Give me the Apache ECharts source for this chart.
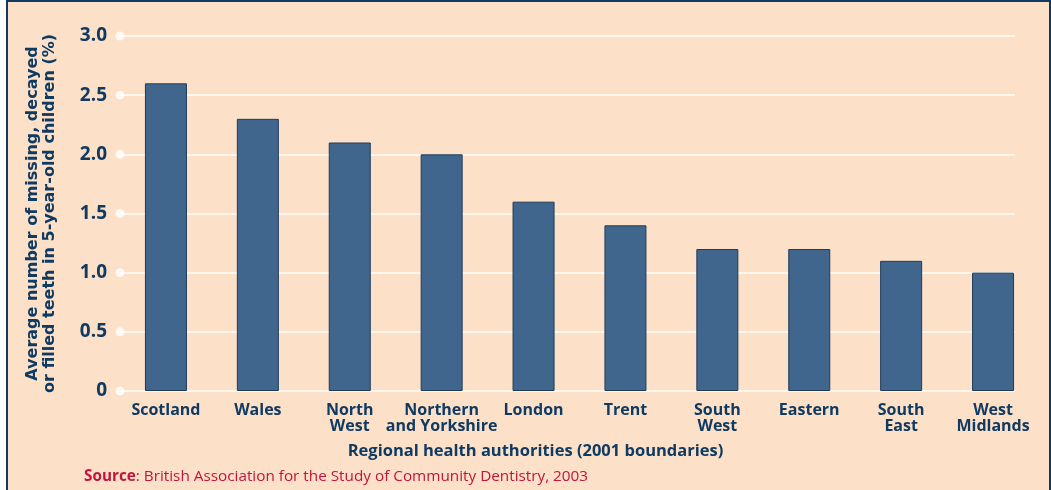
<!DOCTYPE html>
<html>
<head>
<meta charset="utf-8">
<script src="https://cdn.jsdelivr.net/npm/echarts@6/dist/echarts.min.js"></script>
<style>
  html, body { margin: 0; padding: 0; background: #fff; }
  #frame { position: absolute; left: 6px; top: 0; width: 1041px; height: 500px;
           background: #fde0c8; border: 2px solid #0f3a62; border-bottom: none; }
  #main { position: absolute; left: 0; top: 0; width: 1051px; height: 490px; }
</style>
</head>
<body>
<div id="frame"></div>
<div id="main"></div>
<script>
// regions and values
var regions = ['Scotland', 'Wales', 'North\nWest', 'Northern\nand Yorkshire', 'London',
               'Trent', 'South\nWest', 'Eastern', 'South\nEast', 'West\nMidlands'];
var dmft = [2.6, 2.3, 2.1, 2.0, 1.6, 1.4, 1.2, 1.2, 1.1, 1.0];
var yTicks = [0, 0.5, 1.0, 1.5, 2.0, 2.5, 3.0];
var yTickLabels = ['0', '0.5', '1.0', '1.5', '2.0', '2.5', '3.0'];

var navy = '#0f3a62';
var font = 'Open Sans';

var myChart = echarts.init(document.getElementById('main'));
var option = {
    backgroundColor: 'transparent',
    animation: false,
    textStyle: { fontFamily: font },
    grid: [
        // bars
        { left: 120, right: 12, top: 36, bottom: 99 },
        // gridlines stop at the last bar
        { left: 120, right: 36, top: 36, bottom: 99 }
    ],
    xAxis: [{
        type: 'category',
        gridIndex: 0,
        data: regions,
        axisLine: { show: false },
        axisTick: { show: false },
        axisLabel: {
            color: navy, fontFamily: font, fontWeight: 'bold', fontSize: 16,
            lineHeight: 16, margin: 11, interval: 0
        },
        name: 'Regional health authorities (2001 boundaries)',
        nameLocation: 'middle',
        nameGap: 52,
        nameTextStyle: {
            color: navy, fontFamily: font, fontWeight: 'bold', fontSize: 16.5,
            padding: [0, 88, 0, 0]
        }
    }, {
        type: 'value',
        gridIndex: 1,
        min: 0, max: 1,
        show: false
    }],
    yAxis: [{
        type: 'value',
        gridIndex: 0,
        min: 0, max: 3, interval: 0.5,
        axisLine: { show: false },
        axisTick: { show: false },
        splitLine: { show: false },
        axisLabel: {
            color: navy, fontFamily: font, fontWeight: 'bold', fontSize: 19, margin: 13,
            formatter: function (v) { return yTickLabels[yTicks.indexOf(v)]; }
        },
        name: 'Average number of missing, decayed\nor filled teeth in 5-year-old children (%)',
        nameLocation: 'middle',
        nameGap: 62,
        nameRotate: 90,
        nameTextStyle: {
            color: navy, fontFamily: 'DejaVu Sans', fontWeight: 'bold', fontSize: 16, lineHeight: 17
        }
    }, {
        type: 'value',
        gridIndex: 1,
        min: 0, max: 3, interval: 0.5,
        axisLine: { show: false },
        axisTick: { show: false },
        axisLabel: { show: false },
        splitLine: { show: true, lineStyle: { color: '#fff6ee', width: 2 } }
    }],
    series: [{
        type: 'bar',
        xAxisIndex: 0, yAxisIndex: 0,
        data: dmft,
        barWidth: 42,
        z: 3,
        itemStyle: { color: '#41668d', borderColor: '#1d3b5b', borderWidth: 1 }
    }, {
        type: 'scatter',
        xAxisIndex: 1, yAxisIndex: 1,
        clip: false,
        symbolSize: 9,
        z: 4,
        itemStyle: { color: '#ffffff' },
        data: yTicks.map(function (t) { return [0, t]; })
    }],
    graphic: [{
        type: 'text',
        left: 84,
        top: 469,
        style: {
            text: '{b|Source}: British Association for the Study of Community Dentistry, 2003',
            fill: '#c2143f',
            font: '15.3px "Open Sans"',
            rich: {
                b: { fill: '#c2143f', fontWeight: 'bold', fontSize: 15.3, fontFamily: font }
            }
        }
    }]
};
myChart.setOption(option);
</script>
</body>
</html>
